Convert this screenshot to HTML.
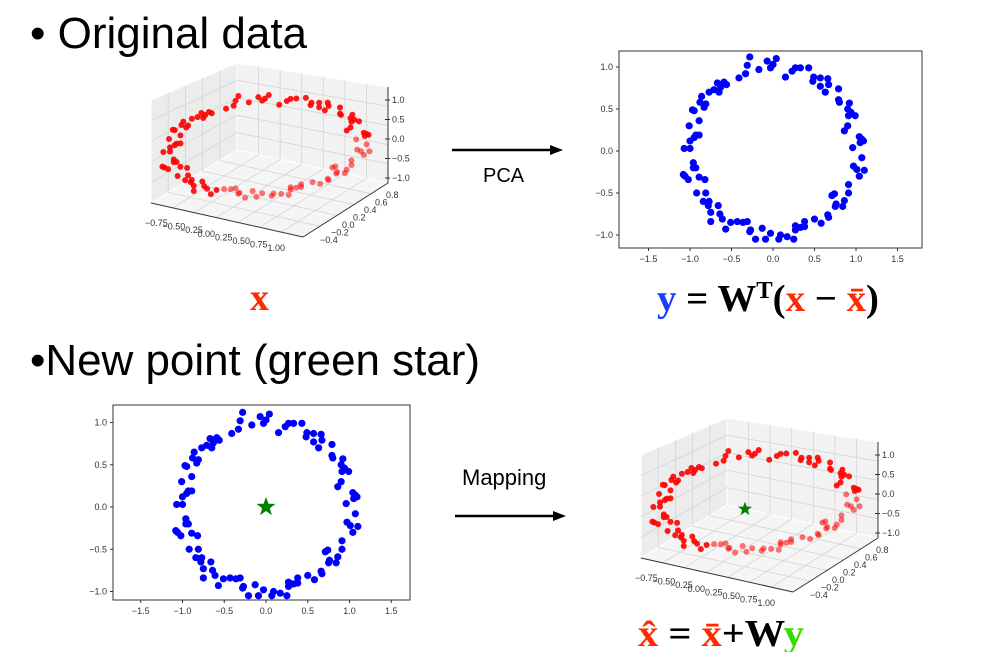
<!DOCTYPE html>
<html><head><meta charset="utf-8"><style>
html,body{margin:0;padding:0;background:#fff;}
svg{display:block;font-family:"Liberation Sans",sans-serif;}
</style></head><body>
<svg id="s" width="992" height="652" viewBox="0 0 992 652">
<text x="30" y="48" font-size="44" textLength="277" lengthAdjust="spacingAndGlyphs">• Original data</text>
<text x="30" y="375" font-size="44" textLength="450" lengthAdjust="spacingAndGlyphs">•New point (green star)</text>
<g><line x1="452" y1="150" x2="552" y2="150" stroke="#000" stroke-width="2.5"/><polygon points="563,150 550,145 550,155" fill="#000"/></g>
<text x="483" y="182" font-size="20">PCA</text>
<g><line x1="455" y1="516" x2="555" y2="516" stroke="#000" stroke-width="2.5"/><polygon points="566,516 553,511 553,521" fill="#000"/></g>
<text x="462" y="485" font-size="22">Mapping</text>
<text x="250" y="310" font-size="38" font-weight="bold" fill="#ff2a00" font-family="Liberation Serif,serif">x</text>
<text x="657" y="311" font-size="38" font-weight="bold" font-family="Liberation Serif,serif" textLength="222" lengthAdjust="spacingAndGlyphs"><tspan fill="#1a3cff">y</tspan><tspan> = W</tspan><tspan dy="-13" font-size="24">T</tspan><tspan dy="13">(</tspan><tspan fill="#ff2a00">x</tspan><tspan> − </tspan><tspan fill="#ff2a00">x̄</tspan><tspan>)</tspan></text>
<text x="638" y="646" font-size="38" font-weight="bold" font-family="Liberation Serif,serif" textLength="166" lengthAdjust="spacingAndGlyphs"><tspan fill="#ff2a00">x̂</tspan><tspan> = </tspan><tspan fill="#ff2a00">x̄</tspan><tspan>+W</tspan><tspan fill="#33dd00">y</tspan></text>
</svg>
<script>
const ptsX=[-0.28,-0.31,-0.07,0,0.04,-0.03,-0.17,-0.33,-0.41,0.15,0.23,0.27,0.33,0.43,0.49,0.48,0.57,0.66,0.57,0.67,0.63,0.79,0.79,0.80,0.92,0.90,0.94,0.99,0.91,0.90,0.86,1.04,1.07,1.09,1.05,0.96,1.07,0.97,1.01,1.10,1.04,0.91,0.91,0.74,0.71,0.86,0.76,0.84,0.75,0.66,0.67,0.58,0.50,0.38,0.38,0.33,0.27,0.27,0.25,0.17,0.09,0.07,-0.03,-0.09,-0.21,-0.13,-0.27,-0.28,-0.31,-0.36,-0.43,-0.51,-0.57,-0.61,-0.64,-0.66,-0.75,-0.75,-0.78,-0.77,-0.84,-0.81,-0.92,-0.82,-0.89,-1.02,-1.06,-1.08,-0.96,-0.93,-0.96,-1.07,-1.0,-1.0,-0.95,-0.89,-0.93,-1.01,-0.89,-0.95,-0.97,-0.83,-0.81,-0.88,-0.86,-0.77,-0.71,-0.65,-0.67,-0.63,-0.59,-0.56];
const ptsY=[1.12,1.02,1.07,1.03,1.10,0.99,0.97,0.92,0.87,0.88,0.95,0.99,0.99,0.99,0.88,0.83,0.87,0.86,0.77,0.79,0.70,0.74,0.61,0.58,0.57,0.50,0.46,0.42,0.42,0.30,0.24,0.17,0.14,0.12,0.10,0.04,-0.08,-0.18,-0.22,-0.23,-0.30,-0.40,-0.50,-0.51,-0.53,-0.59,-0.63,-0.66,-0.66,-0.76,-0.79,-0.86,-0.81,-0.84,-0.90,-0.91,-0.89,-0.94,-1.05,-1.02,-1.00,-1.05,-0.98,-1.05,-1.05,-0.92,-0.94,-0.96,-0.84,-0.85,-0.84,-0.85,-0.93,-0.81,-0.75,-0.65,-0.84,-0.73,-0.65,-0.60,-0.60,-0.50,-0.50,-0.34,-0.31,-0.34,-0.30,-0.28,-0.20,-0.20,-0.14,0.03,0.03,0.12,0.16,0.19,0.19,0.30,0.36,0.48,0.49,0.52,0.56,0.58,0.65,0.70,0.73,0.70,0.81,0.76,0.82,0.79];
const xTicks2d=["−1.5","−1.0","−0.5","0.0","0.5","1.0","1.5"];
const xTickVals2d=[-1.5,-1,-0.5,0,0.5,1,1.5];
const yTickVals2d=[1,0.5,0,-0.5,-1];
const yTicks2d=["1.0","0.5","0.0","−0.5","−1.0"];
const zTicks3d=["1.0","0.5","0.0","−0.5","−1.0"];
const xTicks3d=["−0.75","−0.50","−0.25","0.00","0.25","0.50","0.75","1.00"];
const yTicks3d=["0.8","0.6","0.4","0.2","0.0","−0.2","−0.4"];
const starPoint=[0,0];

const S=document.getElementById('s');
const NS='http://www.w3.org/2000/svg';
function mk(tag,attrs,parent){const e=document.createElementNS(NS,tag);for(const k in attrs)e.setAttribute(k,attrs[k]);(parent||S).appendChild(e);return e;}

function plot2d(name,L,T,R,B,x0,y0,ux,uy,star){
  const g=mk('g',{});
  
  
  const sx=v=>x0+v*ux, sy=v=>y0-v*uy;
  const box=mk('rect',{x:L,y:T,width:R-L,height:B-T,fill:'#fff',stroke:'#333','stroke-width':1},g);
  
  
  xTickVals2d.forEach((v,i)=>{
    mk('line',{x1:sx(v),x2:sx(v),y1:B,y2:B+3,stroke:'#333'},g);
    const t=mk('text',{x:sx(v),y:B+14,'font-size':9,'text-anchor':'middle',fill:'#333'},g);
    t.textContent=xTicks2d[i];
    
    
  });
  yTickVals2d.forEach((v,i)=>{
    mk('line',{x1:L-3,x2:L,y1:sy(v),y2:sy(v),stroke:'#333'},g);
    const t=mk('text',{x:L-6,y:sy(v)+3,'font-size':9,'text-anchor':'end',fill:'#333'},g);
    t.textContent=yTicks2d[i];
    
    
  });
  for(let i=0;i<ptsX.length;i++){
    const c=mk('circle',{cx:sx(ptsX[i]),cy:sy(ptsY[i]),r:3.6,fill:'#0000ff'},g);
    
    
  }
  if(star){
    const cx=sx(starPoint[0]),cy=sy(starPoint[1]);let p=[];
    for(let k=0;k<10;k++){const r=k%2?4:10,a=-Math.PI/2+k*Math.PI/5;p.push((cx+r*Math.cos(a)).toFixed(1)+','+(cy+r*Math.sin(a)).toFixed(1));}
    const st=mk('polygon',{points:p.join(' '),fill:'#008000'},g);
    
    
  }
}
plot2d('pca-scatter-top',619,51,922,248,773,151,83,84,false);
plot2d('new-point-scatter',113,405,410,600,266,507,83.5,84.5,true);

function plot3d(name,dx,dy,star){
  const g=mk('g',{transform:`translate(${dx},${dy})`});
  
  
  const panes=[[[151,100],[237,63],[237,150],[151,203],'#ececec'],[[237,63],[388,87],[388,183],[237,150],'#f2f2f2'],[[151,203],[237,150],[388,183],[303,237],'#f5f5f5']];
  panes.forEach(p=>{const pl=mk('polygon',{points:p.slice(0,4).map(q=>q.join(',')).join(' '),fill:p[4],stroke:'#fff'},g);
    });
  const lerp=(a,b,t)=>[a[0]+(b[0]-a[0])*t,a[1]+(b[1]-a[1])*t];
  const gl=(a,b,c,d,n)=>{for(let i=1;i<n;i++){const p=lerp(a,b,i/n),q=lerp(c,d,i/n);mk('line',{x1:p[0],y1:p[1],x2:q[0],y2:q[1],stroke:'#d4d4d4','stroke-width':0.8},g);}};
  gl([151,100],[237,63],[151,203],[237,150],5);gl([151,100],[151,203],[237,63],[237,150],5);
  gl([237,63],[388,87],[237,150],[388,183],7);gl([237,63],[237,150],[388,87],[388,183],5);
  gl([151,203],[237,150],[303,237],[388,183],5);gl([151,203],[303,237],[237,150],[388,183],7);
  mk('line',{x1:388,y1:87,x2:388,y2:183,stroke:'#333'},g);
  mk('line',{x1:151,y1:203,x2:303,y2:237,stroke:'#333'},g);
  mk('line',{x1:303,y1:237,x2:388,y2:183,stroke:'#333'},g);
  zTicks3d.forEach((t,i)=>{const y=103+i*19.5;mk('line',{x1:385,x2:390,y1:y-3,y2:y-3,stroke:'#333'},g);
    const e=mk('text',{x:392,y:y,'font-size':9,fill:'#333'},g);e.textContent=t;
    });
  xTicks3d.forEach((t,i)=>{const e=mk('text',{x:145+i*17.5,y:226+i*3.6,'font-size':9,fill:'#333'},g);e.textContent=t;
    });
  yTicks3d.forEach((t,i)=>{const e=mk('text',{x:386-i*11,y:198+i*7.5,'font-size':9,fill:'#333'},g);e.textContent=t;
    });
  const cx=265,cy=147,a=95,b=47;
  for(let i=0;i<ptsX.length;i++){
    const X=ptsX[i],Y=ptsY[i];
    const front=(Y<0.1&&X>-0.5)?0.55:0.9;
    const c=mk('circle',{cx:cx+a*X,cy:cy-b*Y-6*X,r:3,fill:'#ff0000','fill-opacity':front},g);
    
    
  }
  if(star){
    const sx=cx-10+a*starPoint[0],sy=cy+7-b*starPoint[1];let p=[];
    for(let k=0;k<10;k++){const r=k%2?3:7.5,an=-Math.PI/2+k*Math.PI/5;p.push((sx+r*Math.cos(an)).toFixed(1)+','+(sy+r*Math.sin(an)).toFixed(1));}
    const st=mk('polygon',{points:p.join(' '),fill:'#008000'},g);
    
    
  }
}
plot3d('original-data-3d',0,0,false);
plot3d('reconstructed-3d',490,355,true);
</script>
</body></html>
